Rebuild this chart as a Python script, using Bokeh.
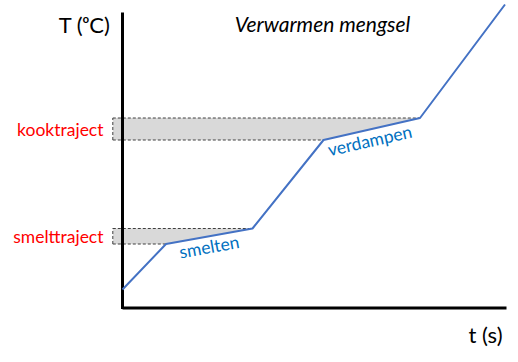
from bokeh.plotting import figure
from bokeh.models import Range1d
from bokeh.core.properties import value
from bokeh.embed import file_html
from bokeh.resources import INLINE
import math

# schematic heating curve (t in arbitrary s, T in arbitrary degC units)
t_vals = [0.0, 4.35, 13.0, 20.1, 29.75, 38.25]
T_vals = [1.85, 6.4, 7.95, 16.8, 19.0, 30.35]
axis_t_max = 38.4
axis_T_max = 29.55
band_left = -0.97

labels_left = ["kooktraject", "smelttraject"]
phase_labels = ["smelten", "verdampen"]
title_text = "Verwarmen mengsel"
x_label = "t (s)"
y_label = "T (\u1d52C)"

FONT = "Lato"

p = figure(width=518, height=362, output_backend="svg", toolbar_location=None,
           x_range=Range1d(-12.2, 39.6), y_range=Range1d(-5.45, 30.75),
           x_axis_location=None, y_axis_location=None, min_border=0)
p.outline_line_color = None
p.grid.visible = False
p.background_fill_color = "white"
p.border_fill_color = "white"

# gray bands (melting between points 1-2, boiling between points 3-4)
for i0, i1 in [(1, 2), (3, 4)]:
    lo, hi = T_vals[i0], T_vals[i1]
    xs = [band_left, t_vals[i1], t_vals[i0], band_left]
    ys = [hi, hi, lo, lo]
    p.patch(xs, ys, fill_color="#D9D9D9", line_color=None)
    p.line([band_left, t_vals[i1]], [hi, hi], line_color="#404040", line_width=1, line_dash="3 2")
    p.line([band_left, t_vals[i0]], [lo, lo], line_color="#404040", line_width=1, line_dash="3 2")
    p.line([band_left, band_left], [lo, hi], line_color="#404040", line_width=1, line_dash="3 2")

# axes
p.line([0, 0], [-0.1, axis_T_max], line_color="black", line_width=3)
p.line([0, axis_t_max], [0, 0], line_color="black", line_width=3)

# curve
p.line(t_vals, T_vals, line_color="#4472C4", line_width=2)

# left labels
p.text(x=[-1.9, -1.9], y=[(T_vals[3] + T_vals[4]) / 2, (T_vals[1] + T_vals[2]) / 2],
       text=labels_left, text_color="#FF0000", text_font=value(FONT),
       text_font_size="17.5px", text_align="right", text_baseline="middle")

# phase labels along the line
for (i0, i1), lab, (dx, dy) in zip([(1, 2), (3, 4)], phase_labels, [(0.0, -1.05), (-0.2, -1.15)]):
    ang = math.atan2((T_vals[i1] - T_vals[i0]), (t_vals[i1] - t_vals[i0]))
    cx = (t_vals[i0] + t_vals[i1]) / 2 + dx
    cy = (T_vals[i0] + T_vals[i1]) / 2 + dy
    p.text(x=[cx], y=[cy], text=[lab], angle=ang, text_color="#0070C0",
           text_font=value(FONT), text_font_size="17.5px",
           text_align="center", text_baseline="middle")

# title and axis labels
p.text(x=[20.0], y=[28.5], text=[title_text], text_font=value(FONT), text_font_style="italic",
       text_font_size="21px", text_align="center", text_baseline="middle", text_color="black")
p.text(x=[38.0], y=[-2.65], text=[x_label], text_font=value(FONT),
       text_font_size="22px", text_align="right", text_baseline="middle", text_color="black")
p.text(x=[-1.2], y=[28.35], text=[y_label], text_font=value(FONT),
       text_font_size="22px", text_align="right", text_baseline="middle", text_color="black")

open("out.html", "w").write(file_html(p, INLINE))
